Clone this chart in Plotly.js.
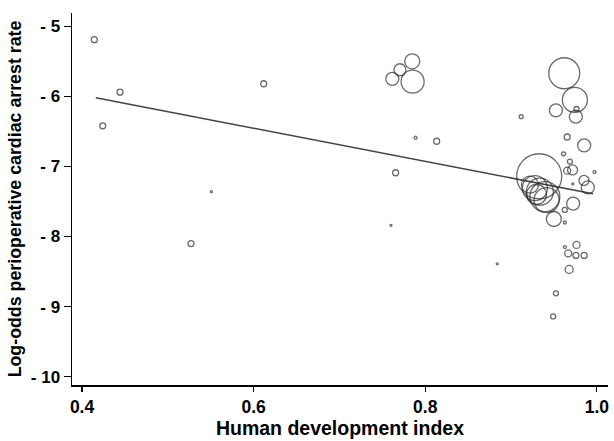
<!DOCTYPE html>
<html>
<head>
<meta charset="utf-8">
<script src="https://cdn.plot.ly/plotly-3.0.1.min.js"></script>
<style>html,body{margin:0;padding:0;background:#fff;}#chart{width:614px;height:441px;}</style>
</head>
<body>
<div id="chart"></div>
<script>
// Human development index per study
const hdi = [0.4143, 0.4443, 0.4241, 0.6117, 0.5507, 0.5270,
  0.7848, 0.7705, 0.7616, 0.7853, 0.7888, 0.8133, 0.7655, 0.7600, 0.8839,
  0.9620, 0.9744, 0.9523, 0.9755, 0.9763, 0.9118, 0.9654, 0.9852, 0.9612, 0.9973, 0.9686,
  0.9328, 0.9717, 0.9654, 0.9850, 0.9895, 0.9720,
  0.9278, 0.9336, 0.9297, 0.9394, 0.9414, 0.9220,
  0.9724, 0.9627, 0.9499, 0.9627, 0.9763, 0.9666, 0.9756, 0.9852, 0.9627, 0.9677, 0.9523, 0.9491];
// Log-odds perioperative cardiac arrest rate per study
const logOdds = [-5.19, -5.94, -6.42, -5.82, -7.36, -8.10,
  -5.50, -5.62, -5.75, -5.79, -6.59, -6.64, -7.09, -7.84, -8.39,
  -5.67, -6.05, -6.20, -6.29, -6.18, -6.29, -6.58, -6.70, -6.82, -7.08, -6.93,
  -7.14, -7.05, -7.06, -7.20, -7.30, -7.25,
  -7.31, -7.36, -7.40, -7.43, -7.48, -7.26,
  -7.53, -7.62, -7.75, -7.80, -8.12, -8.24, -8.27, -8.27, -8.15, -8.47, -8.81, -9.14];
// Study weight (bubble diameter)
const weight = [6, 6, 6, 6, 2, 6,
  15, 12, 13, 23, 3, 6, 6, 2, 2,
  31, 25, 13, 13, 5, 4, 6, 13, 4, 3, 5,
  45, 10, 7, 10, 13, 2,
  25, 27, 20, 30, 25, 17,
  13, 5, 15, 3, 7, 7, 6, 6, 3, 8, 5, 5];
// Meta-regression fitted line endpoints
const fitX = [0.416, 0.9955];
const fitY = [-6.02, -7.39];
// Tick labels
const xTickVals = [0.4, 0.6, 0.8, 1.0];
const xTickText = ['0.4', '0.6', '0.8', '1.0'];
const yTickVals = [-5, -6, -7, -8, -9, -10];
const yTickText = ['- 5', '- 6', '- 7', '- 8', '- 9', '- 10'];

const traces = [
  {
    x: fitX, y: fitY, mode: 'lines', type: 'scatter',
    line: {color: '#444', width: 1.5}, hoverinfo: 'skip'
  },
  {
    x: hdi, y: logOdds, mode: 'markers', type: 'scatter',
    marker: {symbol: 'circle-open', size: weight, sizemode: 'diameter',
      color: '#2a2a2a', line: {color: '#2a2a2a', width: 1.3}}
  }
];
const font = {family: 'Liberation Sans, Arial, sans-serif', color: '#000'};
const layout = {
  width: 614, height: 441,
  margin: {l: 72, r: 6, t: 13, b: 56},
  paper_bgcolor: '#fff', plot_bgcolor: '#fff',
  showlegend: false,
  font: font,
  xaxis: {
    range: [0.3883, 1.013],
    tickvals: xTickVals, ticktext: xTickText,
    tickfont: {family: font.family, size: 17.5, color: '#000', weight: 'bold'},
    ticks: 'outside', ticklen: 5, tickwidth: 1.2, tickcolor: '#000',
    showline: true, linecolor: '#000', linewidth: 1.5,
    showgrid: false, zeroline: false,
    title: {text: '<b>Human development index</b>', font: {family: font.family, size: 19.5, color: '#000'}, standoff: 6}
  },
  yaxis: {
    range: [-10.119, -4.81],
    tickvals: yTickVals, ticktext: yTickText,
    tickfont: {family: font.family, size: 17, color: '#000', weight: 'bold'},
    ticks: 'outside', ticklen: 7, tickwidth: 1.2, tickcolor: '#000',
    showline: true, linecolor: '#000', linewidth: 1.5,
    showgrid: false, zeroline: false,
    title: {text: '<b>Log-odds perioperative cardiac arrest rate</b>', font: {family: font.family, size: 17.8, color: '#000'}, standoff: 4}
  }
};
Plotly.newPlot('chart', traces, layout, {staticPlot: true, displayModeBar: false});
</script>
</body>
</html>
